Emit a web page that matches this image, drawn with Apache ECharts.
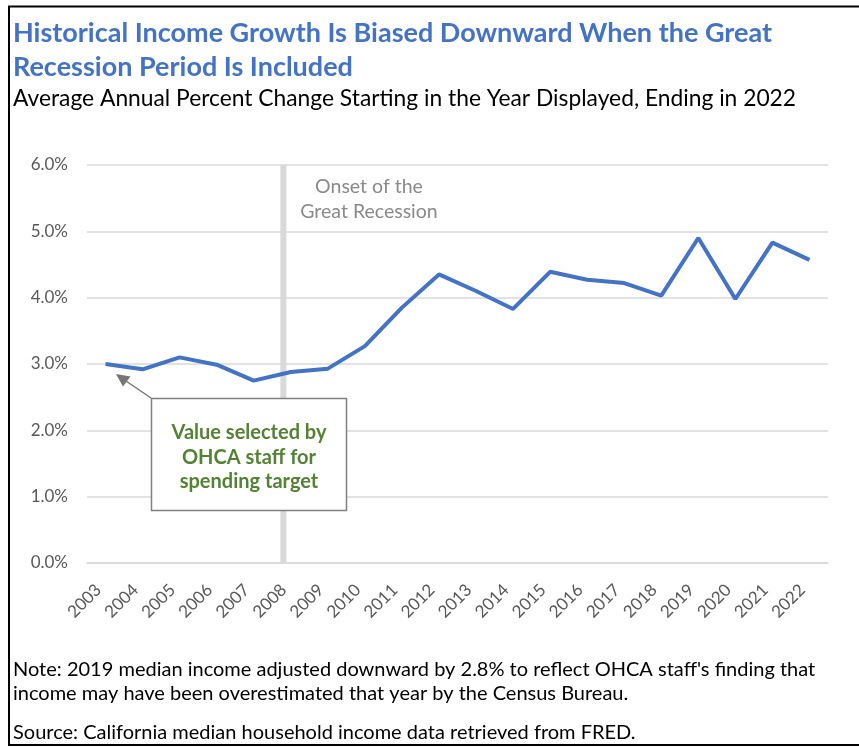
<!DOCTYPE html>
<html>
<head>
<meta charset="utf-8">
<script src="https://cdn.jsdelivr.net/npm/echarts@6/dist/echarts.min.js"></script>
<style>
html,body{margin:0;padding:0;background:#fff;}
#chart{width:859px;height:747px;}
</style>
</head>
<body>
<div id="chart"></div>
<script>
const years = ['2003','2004','2005','2006','2007','2008','2009','2010','2011','2012','2013','2014','2015','2016','2017','2018','2019','2020','2021','2022'];
const growth = [3.00,2.92,3.10,2.99,2.75,2.88,2.93,3.27,3.85,4.35,4.10,3.83,4.39,4.27,4.22,4.03,4.90,3.98,4.83,4.57];
const yTicks = [0,1,2,3,4,5,6];
const recessionOnsetIndex = 4.8;

const titleLines = ['Historical Income Growth Is Biased Downward When the Great', 'Recession Period Is Included'];
const subtitle = 'Average Annual Percent Change Starting in the Year Displayed, Ending in 2022';
const noteLines = ["Note: 2019 median income adjusted downward by 2.8% to reflect OHCA staff's finding that", 'income may have been overestimated that year by the Census Bureau.'];
const sourceLine = 'Source: California median household income data retrieved from FRED.';
const calloutLines = ['Value selected by', 'OHCA staff for', 'spending target'];
const recessionLabel = ['Onset of the', 'Great Recession'];

const chart = echarts.init(document.getElementById('chart'));
const font = 'Lato, "Noto Sans", sans-serif';

chart.setOption({
  animation: false,
  backgroundColor: '#ffffff',
  grid: {left: 87, right: 31, top: 165, bottom: 184, containLabel: false},
  xAxis: [{
    type: 'category',
    data: years,
    boundaryGap: true,
    axisLine: {show: true, lineStyle: {color: '#d9d9d9', width: 1.5}},
    axisTick: {show: false},
    axisLabel: {rotate: 45, color: '#595959', fontSize: 17, fontFamily: font, margin: 17, interval: 0, padding: [0, 10, 0, 0]}
  }, {
    type: 'value',
    min: -0.5, max: years.length - 0.5,
    show: false
  }],
  yAxis: {
    type: 'value',
    min: 0, max: 6, interval: 1,
    axisLine: {show: false},
    axisTick: {show: false},
    splitLine: {lineStyle: {color: '#d9d9d9', width: 1.5}},
    axisLabel: {color: '#595959', fontSize: 17, fontFamily: font, margin: 19,
      formatter: v => v.toFixed(1) + '%'}
  },
  series: [{
    type: 'line',
    xAxisIndex: 1,
    data: [[recessionOnsetIndex, yTicks[0]], [recessionOnsetIndex, yTicks[yTicks.length - 1]]],
    showSymbol: false,
    symbol: 'none',
    silent: true,
    lineStyle: {color: '#d9d9d9', width: 6},
    z: 1
  }, {
    type: 'line',
    data: growth,
    showSymbol: false,
    symbol: 'none',
    lineStyle: {color: '#4472C4', width: 4},
    z: 5
  }],
  graphic: [
    // frame
    {type: 'line', shape: {x1: 8, y1: 6.5, x2: 859, y2: 6.5}, style: {stroke: '#000', lineWidth: 2}},
    {type: 'line', shape: {x1: 9, y1: 6, x2: 9, y2: 745}, style: {stroke: '#000', lineWidth: 2}},
    {type: 'line', shape: {x1: 8, y1: 745, x2: 859, y2: 745}, style: {stroke: '#000', lineWidth: 2}},
    // title
    {type: 'text', x: 13, y: 33, style: {text: titleLines[0], font: 'bold 27px ' + font, fill: '#4472C4', verticalAlign: 'middle'}},
    {type: 'text', x: 13, y: 67, style: {text: titleLines[1], font: 'bold 27px ' + font, fill: '#4472C4', verticalAlign: 'middle'}},
    {type: 'text', x: 13, y: 99, style: {text: subtitle, font: '22.8px ' + font, fill: '#000', verticalAlign: 'middle'}},
    // recession label
    {type: 'text', x: 369, y: 187, style: {text: recessionLabel[0], font: '19.5px ' + font, fill: '#898989', align: 'center', verticalAlign: 'middle'}},
    {type: 'text', x: 369, y: 212, style: {text: recessionLabel[1], font: '19.5px ' + font, fill: '#898989', align: 'center', verticalAlign: 'middle'}},
    // callout
    {type: 'line', shape: {x1: 151, y1: 398, x2: 126, y2: 381}, style: {stroke: '#767676', lineWidth: 1.5}, z: 10},
    {type: 'polygon', shape: {points: [[116, 374], [130.5, 376.5], [123, 386.5]]}, style: {fill: '#767676'}, z: 10},
    {type: 'rect', shape: {x: 151.5, y: 398.5, width: 195, height: 112}, style: {fill: '#fff', stroke: '#7f7f7f', lineWidth: 1.5}, z: 10},
    {type: 'text', x: 249, y: 433, style: {text: calloutLines[0], font: 'bold 20px ' + font, fill: '#548235', align: 'center', verticalAlign: 'middle'}, z: 11},
    {type: 'text', x: 249, y: 458, style: {text: calloutLines[1], font: 'bold 20px ' + font, fill: '#548235', align: 'center', verticalAlign: 'middle'}, z: 11},
    {type: 'text', x: 249, y: 482, style: {text: calloutLines[2], font: 'bold 20px ' + font, fill: '#548235', align: 'center', verticalAlign: 'middle'}, z: 11},
    // notes
    {type: 'text', x: 13, y: 670, style: {text: noteLines[0], font: '20px ' + font, fill: '#000', verticalAlign: 'middle'}},
    {type: 'text', x: 13, y: 694, style: {text: noteLines[1], font: '20px ' + font, fill: '#000', verticalAlign: 'middle'}},
    {type: 'text', x: 13, y: 733, style: {text: sourceLine, font: '20px ' + font, fill: '#000', verticalAlign: 'middle'}}
  ]
});
</script>
</body>
</html>
